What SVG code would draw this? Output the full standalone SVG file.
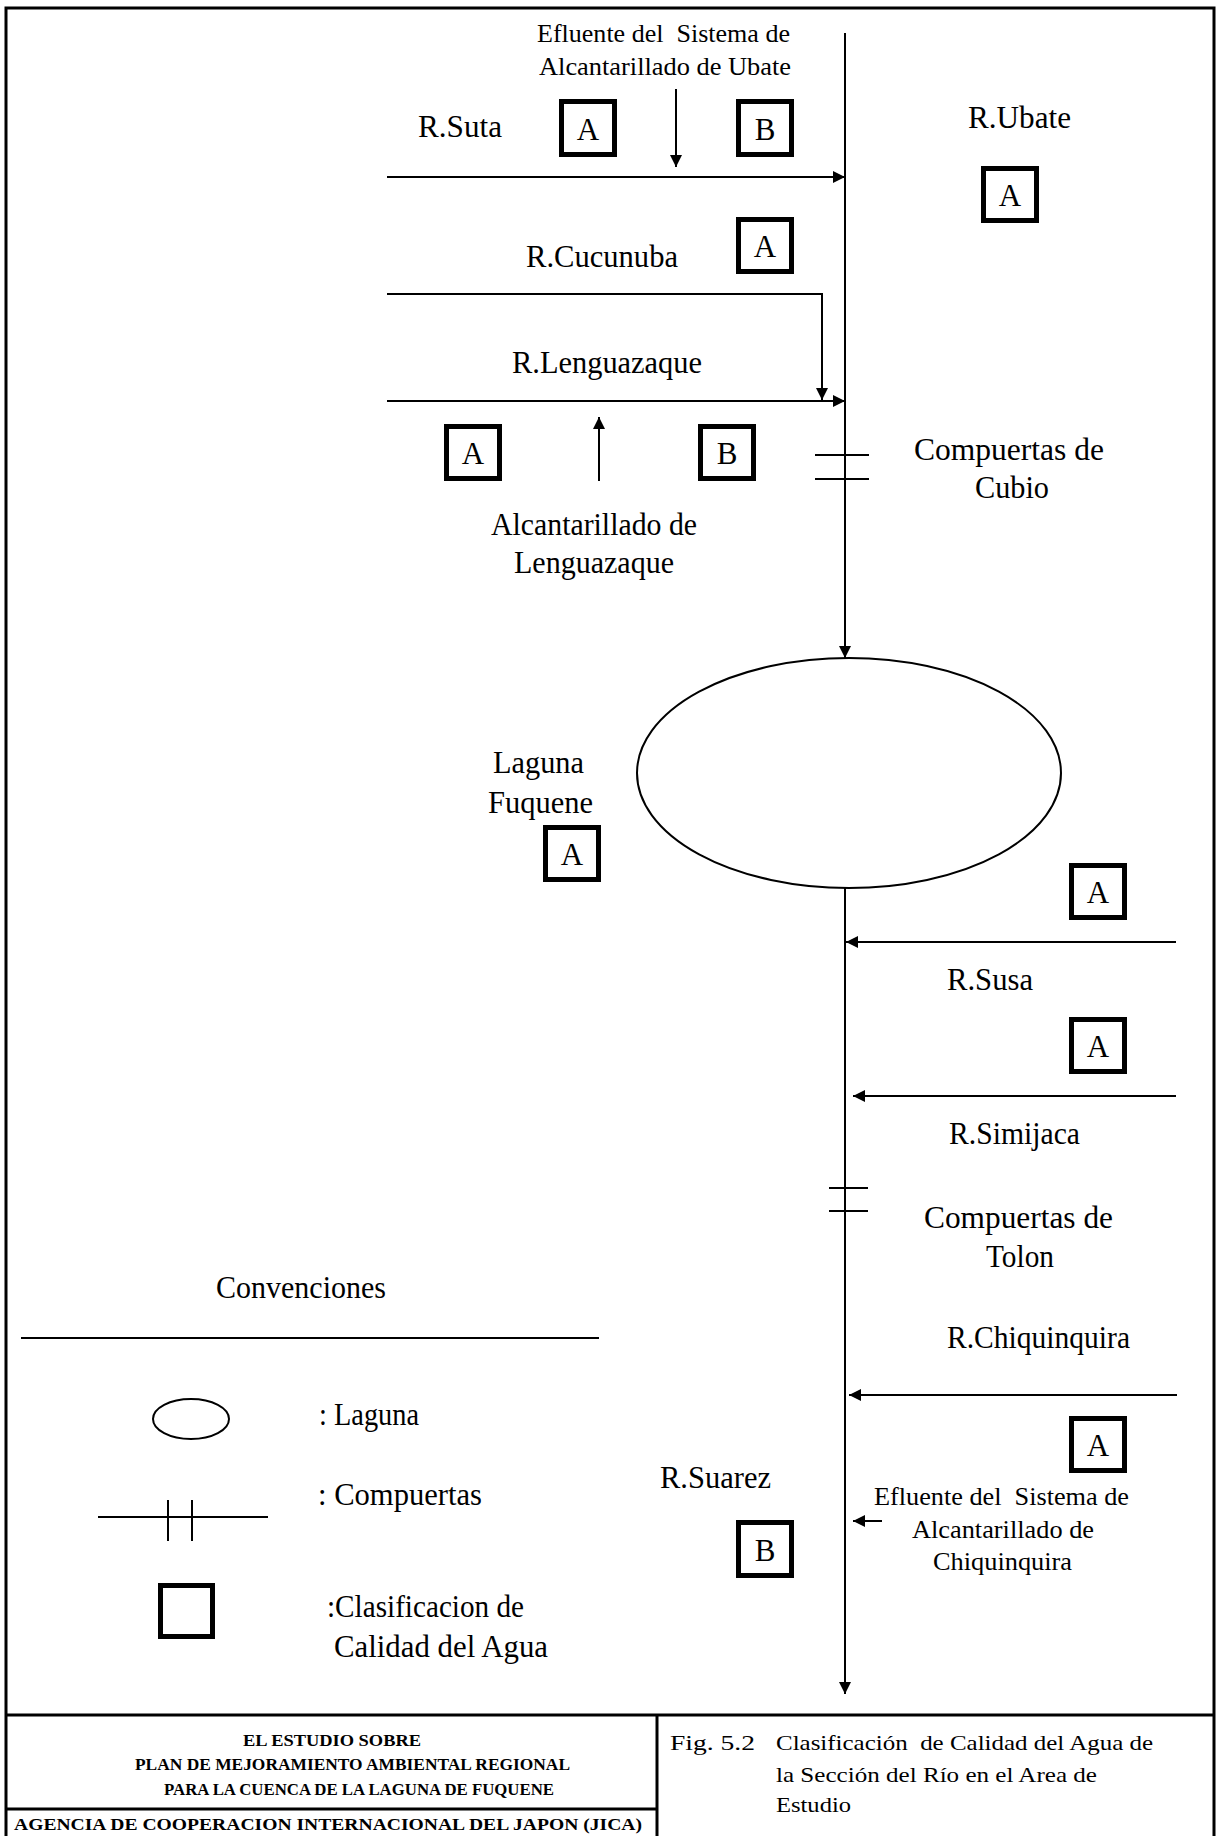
<svg xmlns="http://www.w3.org/2000/svg" width="1220" height="1836" viewBox="0 0 1220 1836">
<style>
.t{font-family:"Liberation Serif","Times New Roman",serif;font-size:32px;fill:#000}
.s{font-family:"Liberation Serif","Times New Roman",serif;font-size:25px;fill:#000;white-space:pre}
.f{font-family:"Liberation Serif","Times New Roman",serif;font-size:17px;font-weight:bold;fill:#000}
.r{font-family:"Liberation Serif","Times New Roman",serif;font-size:22px;fill:#000;white-space:pre}
.bx{fill:#fff;stroke:#000;stroke-width:5}
.bl{font-family:"Liberation Serif","Times New Roman",serif;font-size:31px;fill:#000;text-anchor:middle}
.ln{stroke:#000;stroke-width:2;fill:none}
.brd{stroke:#000;stroke-width:3;fill:none}
</style>
<defs>
<marker id="ah" viewBox="0 0 12 12" refX="12" refY="6" markerWidth="12" markerHeight="12" markerUnits="userSpaceOnUse" orient="auto">
<path d="M0,0 L12,6 L0,12 z" fill="#000"/>
</marker>
</defs>
<rect width="1220" height="1836" fill="#fff"/>

<g id="frame">
<path class="brd" d="M6,1836 V8 H1214 V1836"/>
<line class="brd" x1="6" y1="1715" x2="1214" y2="1715"/>
<line class="brd" x1="657" y1="1715" x2="657" y2="1836"/>
<line class="brd" x1="6" y1="1809" x2="657" y2="1809"/>
</g>

<g id="connectors">
<line class="ln" x1="845" y1="33" x2="845" y2="658" marker-end="url(#ah)"/>
<line class="ln" x1="845" y1="888" x2="845" y2="1694" marker-end="url(#ah)"/>
<line class="ln" x1="387" y1="177" x2="845" y2="177" marker-end="url(#ah)"/>
<polyline class="ln" points="387,294 822,294 822,400" marker-end="url(#ah)"/>
<line class="ln" x1="387" y1="401" x2="845" y2="401" marker-end="url(#ah)"/>
<line class="ln" x1="676" y1="89" x2="676" y2="167" marker-end="url(#ah)"/>
<line class="ln" x1="599" y1="481" x2="599" y2="417" marker-end="url(#ah)"/>
<line class="ln" x1="1176" y1="942" x2="846" y2="942" marker-end="url(#ah)"/>
<line class="ln" x1="1176" y1="1096" x2="853" y2="1096" marker-end="url(#ah)"/>
<line class="ln" x1="1177" y1="1395" x2="849" y2="1395" marker-end="url(#ah)"/>
<line class="ln" x1="882" y1="1521" x2="853" y2="1521" marker-end="url(#ah)"/>
</g>

<g id="gate-cubio">
<line class="ln" x1="815" y1="455" x2="869" y2="455"/>
<line class="ln" x1="815" y1="479" x2="869" y2="479"/>
<text class="t" x="914" y="460" textLength="190" lengthAdjust="spacingAndGlyphs">Compuertas de</text>
<text class="t" x="975" y="498" textLength="74" lengthAdjust="spacingAndGlyphs">Cubio</text>
</g>

<g id="gate-tolon">
<line class="ln" x1="829" y1="1188" x2="868" y2="1188"/>
<line class="ln" x1="829" y1="1211" x2="868" y2="1211"/>
<text class="t" x="924" y="1228" textLength="189" lengthAdjust="spacingAndGlyphs">Compuertas de</text>
<text class="t" x="986" y="1267" textLength="68" lengthAdjust="spacingAndGlyphs">Tolon</text>
</g>

<g id="laguna">
<ellipse class="ln" cx="849" cy="773" rx="212" ry="115"/>
<text class="t" x="493" y="773" textLength="91" lengthAdjust="spacingAndGlyphs">Laguna</text>
<text class="t" x="488" y="813" textLength="105" lengthAdjust="spacingAndGlyphs">Fuquene</text>
<rect class="bx" x="545.5" y="827.5" width="53" height="52"/>
<text class="bl" x="572" y="865">A</text>
</g>

<g id="ubate-effluent">
<text class="s" x="537" y="42" textLength="253" lengthAdjust="spacingAndGlyphs">Efluente del  Sistema de</text>
<text class="s" x="539" y="75" textLength="252" lengthAdjust="spacingAndGlyphs">Alcantarillado de Ubate</text>
<rect class="bx" x="738.5" y="101.5" width="53" height="53"/>
<text class="bl" x="765" y="140">B</text>
</g>

<g id="r-suta">
<text class="t" x="418" y="137" textLength="84" lengthAdjust="spacingAndGlyphs">R.Suta</text>
<rect class="bx" x="561.5" y="101.5" width="53" height="53"/>
<text class="bl" x="588" y="140">A</text>
</g>

<g id="r-ubate">
<text class="t" x="968" y="128" textLength="103" lengthAdjust="spacingAndGlyphs">R.Ubate</text>
<rect class="bx" x="983.5" y="168.5" width="53" height="52"/>
<text class="bl" x="1010" y="206">A</text>
</g>

<g id="r-cucunuba">
<text class="t" x="526" y="267" textLength="152" lengthAdjust="spacingAndGlyphs">R.Cucunuba</text>
<rect class="bx" x="738.5" y="219.5" width="53" height="52"/>
<text class="bl" x="765" y="257">A</text>
</g>

<g id="r-lenguazaque">
<text class="t" x="512" y="373" textLength="190" lengthAdjust="spacingAndGlyphs">R.Lenguazaque</text>
<rect class="bx" x="446.5" y="426.5" width="53" height="52"/>
<text class="bl" x="473" y="464">A</text>
</g>

<g id="lenguazaque-sewer">
<rect class="bx" x="700.5" y="426.5" width="53" height="52"/>
<text class="bl" x="727" y="464">B</text>
<text class="t" x="491" y="535" textLength="206" lengthAdjust="spacingAndGlyphs">Alcantarillado de</text>
<text class="t" x="514" y="573" textLength="160" lengthAdjust="spacingAndGlyphs">Lenguazaque</text>
</g>

<g id="r-susa">
<rect class="bx" x="1071.5" y="865.5" width="53" height="52"/>
<text class="bl" x="1098" y="903">A</text>
<text class="t" x="947" y="990" textLength="86" lengthAdjust="spacingAndGlyphs">R.Susa</text>
</g>

<g id="r-simijaca">
<rect class="bx" x="1071.5" y="1019.5" width="53" height="52"/>
<text class="bl" x="1098" y="1057">A</text>
<text class="t" x="949" y="1144" textLength="131" lengthAdjust="spacingAndGlyphs">R.Simijaca</text>
</g>

<g id="r-chiquinquira">
<text class="t" x="947" y="1348" textLength="183" lengthAdjust="spacingAndGlyphs">R.Chiquinquira</text>
<rect class="bx" x="1071.5" y="1418.5" width="53" height="52"/>
<text class="bl" x="1098" y="1456">A</text>
</g>

<g id="chiquinquira-effluent">
<text class="s" x="874" y="1505" textLength="255" lengthAdjust="spacingAndGlyphs">Efluente del  Sistema de</text>
<text class="s" x="912" y="1538" textLength="182" lengthAdjust="spacingAndGlyphs">Alcantarillado de</text>
<text class="s" x="933" y="1570" textLength="139" lengthAdjust="spacingAndGlyphs">Chiquinquira</text>
</g>

<g id="r-suarez">
<text class="t" x="660" y="1488" textLength="111" lengthAdjust="spacingAndGlyphs">R.Suarez</text>
<rect class="bx" x="738.5" y="1522.5" width="53" height="53"/>
<text class="bl" x="765" y="1561">B</text>
</g>

<g id="legend">
<text class="t" x="216" y="1298" textLength="170" lengthAdjust="spacingAndGlyphs">Convenciones</text>
<line class="ln" x1="21" y1="1338" x2="599" y2="1338"/>
<ellipse class="ln" cx="191" cy="1419" rx="38" ry="20"/>
<text class="t" x="319" y="1425" textLength="100" lengthAdjust="spacingAndGlyphs">: Laguna</text>
<line class="ln" x1="98" y1="1517" x2="268" y2="1517"/>
<line class="ln" x1="168" y1="1500" x2="168" y2="1541"/>
<line class="ln" x1="192" y1="1500" x2="192" y2="1541"/>
<text class="t" x="318" y="1505" textLength="164" lengthAdjust="spacingAndGlyphs">: Compuertas</text>
<rect class="bx" x="160.5" y="1585.5" width="52" height="51"/>
<text class="t" x="327" y="1617" textLength="197" lengthAdjust="spacingAndGlyphs">:Clasificacion de</text>
<text class="t" x="334" y="1657" textLength="214" lengthAdjust="spacingAndGlyphs">Calidad del Agua</text>
</g>

<g id="title-block">
<text class="f" x="332" y="1746" text-anchor="middle" textLength="178" lengthAdjust="spacingAndGlyphs">EL ESTUDIO SOBRE</text>
<text class="f" x="135" y="1770" textLength="435" lengthAdjust="spacingAndGlyphs">PLAN DE MEJORAMIENTO AMBIENTAL REGIONAL</text>
<text class="f" x="164" y="1795" textLength="390" lengthAdjust="spacingAndGlyphs">PARA LA CUENCA DE LA LAGUNA DE FUQUENE</text>
<text class="f" x="14" y="1830" textLength="628" lengthAdjust="spacingAndGlyphs">AGENCIA DE COOPERACION INTERNACIONAL DEL JAPON (JICA)</text>
<text class="r" x="670" y="1750" textLength="85" lengthAdjust="spacingAndGlyphs">Fig. 5.2</text>
<text class="r" x="776" y="1750" textLength="377" lengthAdjust="spacingAndGlyphs">Clasificación  de Calidad del Agua de</text>
<text class="r" x="776" y="1782" textLength="321" lengthAdjust="spacingAndGlyphs">la Sección del Río en el Area de</text>
<text class="r" x="776" y="1812" textLength="75" lengthAdjust="spacingAndGlyphs">Estudio</text>
</g>
</svg>
